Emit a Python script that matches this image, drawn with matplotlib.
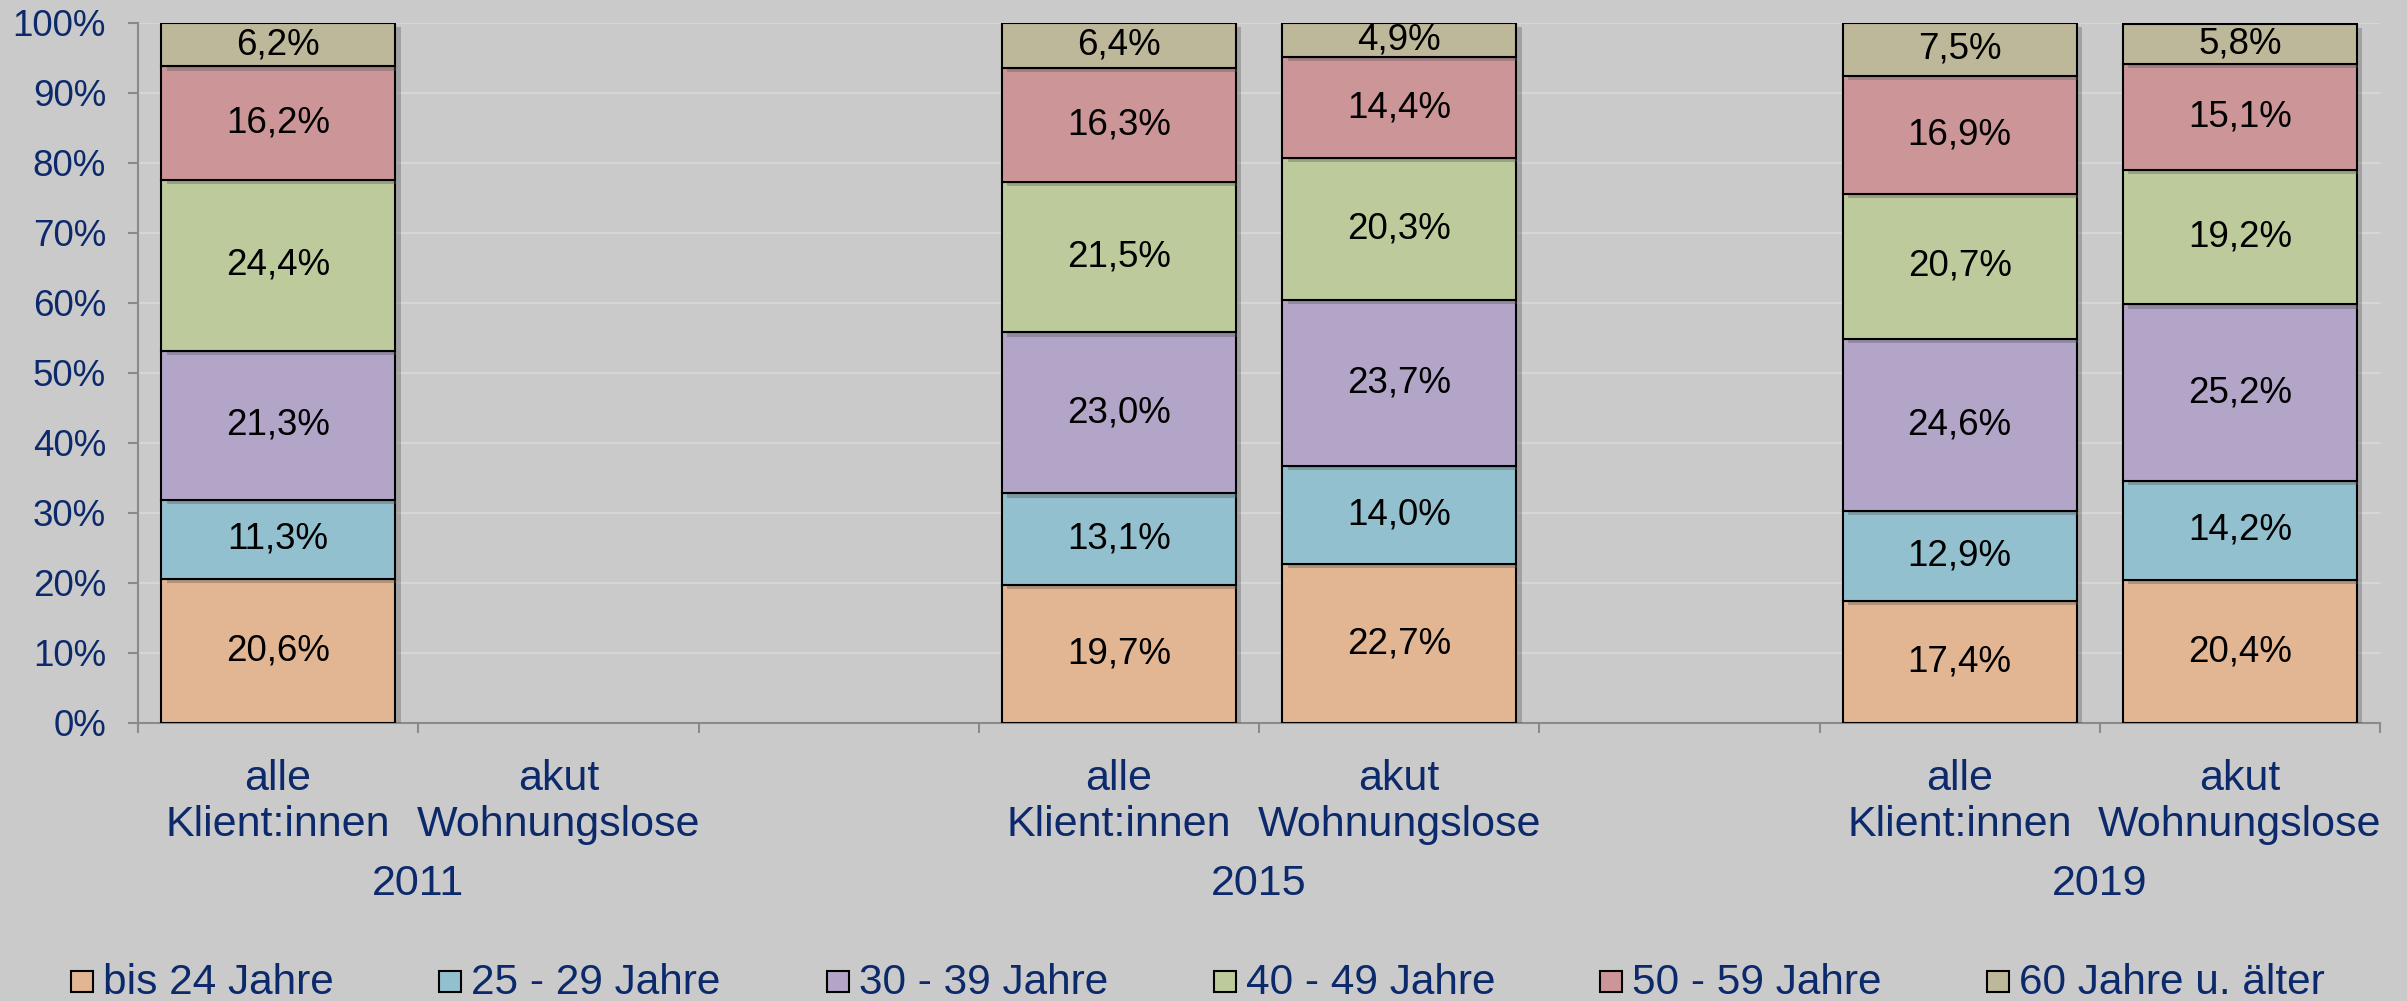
import numpy as np
import matplotlib
matplotlib.use("Agg")
import matplotlib.pyplot as plt
from matplotlib.patches import Rectangle
from matplotlib import patheffects as pe
from matplotlib.transforms import blended_transform_factory

plt.rcParams['font.family'] = ['Liberation Sans', 'DejaVu Sans']

# ---- data ----
slot_labels = ["alle\nKlient:innen", "akut\nWohnungslose", "",
               "alle\nKlient:innen", "akut\nWohnungslose", "",
               "alle\nKlient:innen", "akut\nWohnungslose"]
years = ["2011", "2015", "2019"]
year_slots = [(0, 1), (3, 4), (6, 7)]
series_names = ["bis 24 Jahre", "25 - 29 Jahre", "30 - 39 Jahre",
                "40 - 49 Jahre", "50 - 59 Jahre", "60 Jahre u. älter"]
nan = np.nan
bis24 = [20.6, nan, nan, 19.7, 22.7, nan, 17.4, 20.4]
j25_29 = [11.3, nan, nan, 13.1, 14.0, nan, 12.9, 14.2]
j30_39 = [21.3, nan, nan, 23.0, 23.7, nan, 24.6, 25.2]
j40_49 = [24.4, nan, nan, 21.5, 20.3, nan, 20.7, 19.2]
j50_59 = [16.2, nan, nan, 16.3, 14.4, nan, 16.9, 15.1]
j60plus = [6.2, nan, nan, 6.4, 4.9, nan, 7.5, 5.8]
series = [bis24, j25_29, j30_39, j40_49, j50_59, j60plus]
colors = ["#E2B593", "#93C0CE", "#B2A5C8", "#BDCB9C", "#CC9698", "#BEB89B"]

navy = "#0C2A6B"
bg = "#CACACA"

W, H = 2407, 1001
fig = plt.figure(figsize=(W / 100, H / 100), dpi=100)
fig.patch.set_facecolor(bg)
ax = fig.add_axes([138 / W, 1 - 723 / H, (2380 - 138) / W, (723 - 23) / H])
ax.set_facecolor("none")

x = np.arange(len(slot_labels))
bottom = np.zeros(len(x))
shadow = [pe.SimplePatchShadow(offset=(4, -3), shadow_rgbFace='#555555', alpha=0.35), pe.Normal()]
for vals, col in zip(series, colors):
    v = np.array(vals, dtype=float)
    bars = ax.bar(x, np.nan_to_num(v), bottom=bottom, width=0.835, color=col,
                  edgecolor="black", linewidth=1.5, zorder=3)
    for b, val in zip(bars, v):
        if np.isnan(val):
            b.set_visible(False)
        else:
            b.set_path_effects(shadow)
    for xi, bi, val in zip(x, bottom, v):
        if not np.isnan(val):
            ax.text(xi, bi + val / 2, f"{val:.1f}%".replace(".", ","),
                    ha="center", va="center", fontsize=26.5, color="black", zorder=5)
    bottom = bottom + np.nan_to_num(v)

ax.set_xlim(-0.5, len(x) - 0.5)
ax.set_ylim(0, 100)
ax.set_yticks(np.arange(0, 101, 10))
ax.set_yticklabels([f"{t}%" for t in range(0, 101, 10)])
ax.tick_params(axis="y", labelsize=26.5, labelcolor=navy, color="#8A8A8A",
               length=7, width=1.5, pad=16)
ax.yaxis.grid(True, color="#D6D6D6", linewidth=1.5, zorder=0)
ax.set_axisbelow(True)

ax.set_xticks(np.arange(-0.5, len(x), 1.0))
ax.set_xticklabels([])
ax.set_xticks(x, minor=True)
ax.set_xticklabels(slot_labels, minor=True)
ax.tick_params(axis="x", which="major", color="#8A8A8A", length=7, width=1.5)
ax.tick_params(axis="x", which="minor", length=0, labelsize=31, labelcolor=navy, pad=26)

for s in ["top", "right"]:
    ax.spines[s].set_visible(False)
for s in ["left", "bottom"]:
    ax.spines[s].set_color("#8A8A8A")
    ax.spines[s].set_linewidth(1.5)

trans = blended_transform_factory(ax.transData, fig.transFigure)
for yr, (a, b) in zip(years, year_slots):
    ax.text((a + b) / 2, 1 - 895 / H, yr, transform=trans, ha="center",
            va="baseline", fontsize=31, color=navy)

# legend (manual, equally spaced like the original)
leg_x = [71, 439, 827, 1214, 1600, 1987]
for lx, name, col in zip(leg_x, series_names, colors):
    fig.patches.append(Rectangle((lx / W, 1 - 992 / H), 22 / W, 21 / H,
                                 transform=fig.transFigure, facecolor=col,
                                 edgecolor="black", linewidth=1.5))
    fig.text((lx + 32) / W, 1 - 994 / H, name, ha="left", va="baseline",
             fontsize=30.5, color=navy)

fig.savefig("out.png", dpi=100, facecolor=bg)
